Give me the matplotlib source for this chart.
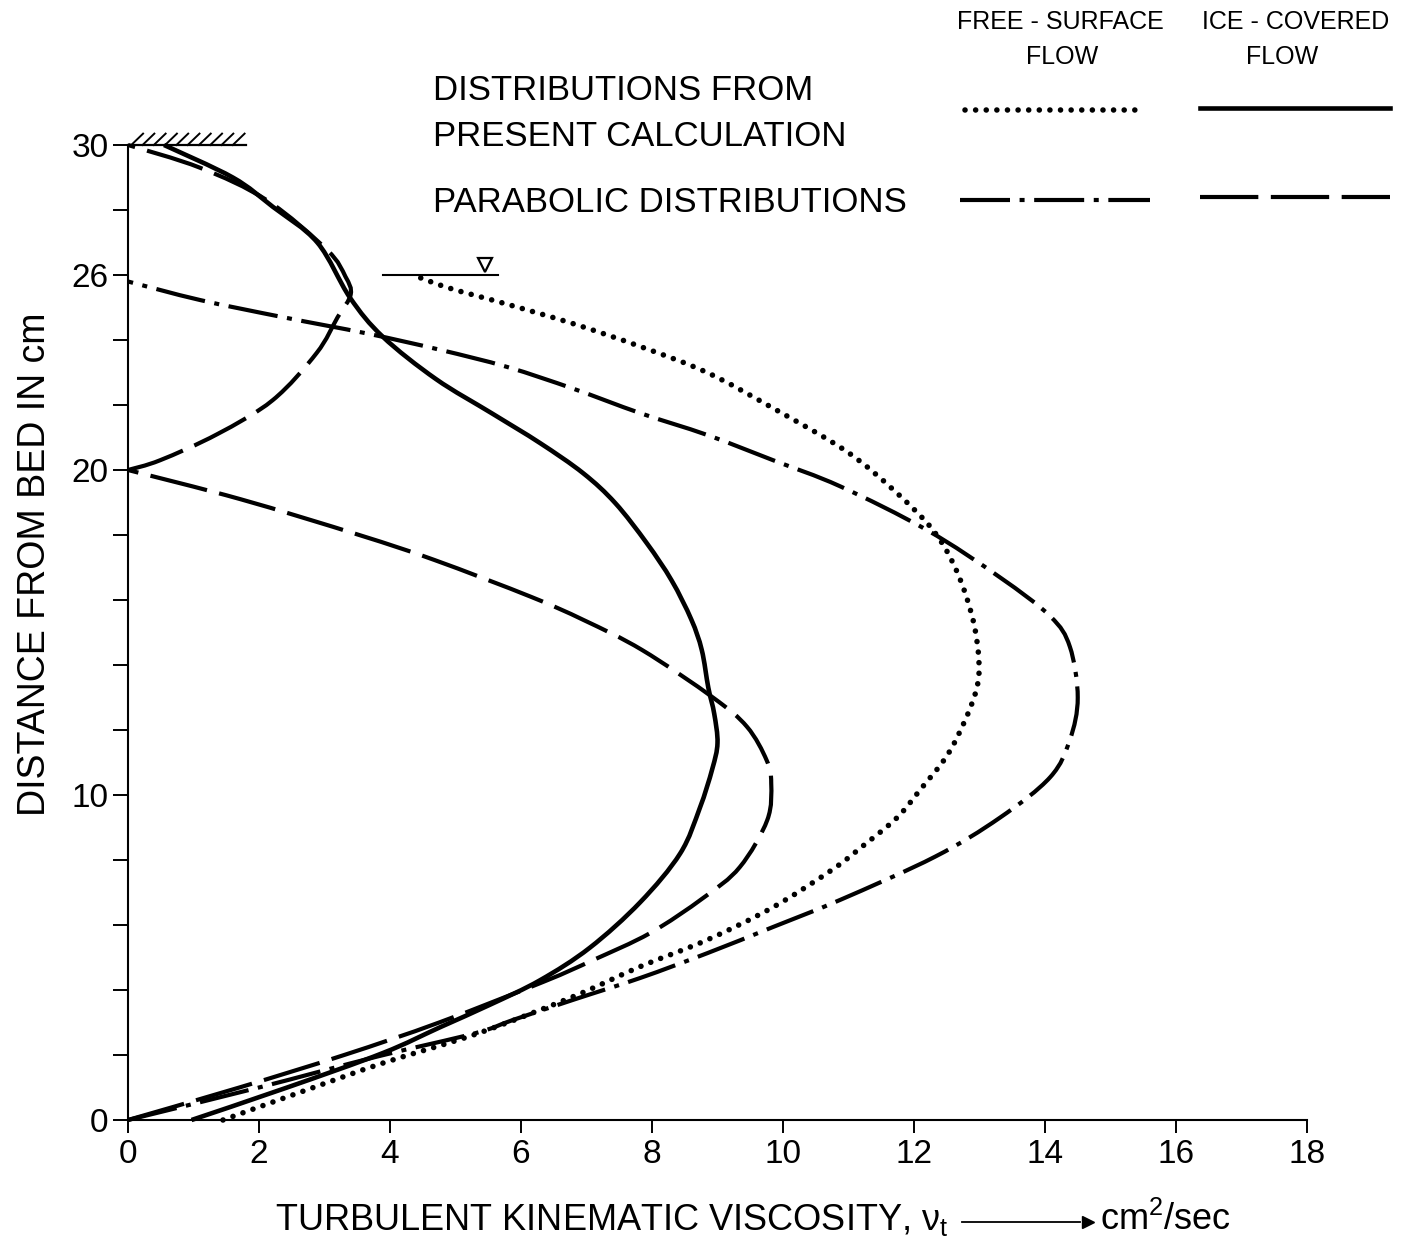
import numpy as np
import matplotlib
matplotlib.use('Agg')
from matplotlib import pyplot as plt
from matplotlib.lines import Line2D
from matplotlib.path import Path
from matplotlib.patches import PathPatch

plt.rcParams['font.family'] = ['Liberation Sans', 'DejaVu Sans']
plt.rcParams['mathtext.fontset'] = 'custom'
plt.rcParams['mathtext.rm'] = 'Liberation Sans'
plt.rcParams['mathtext.it'] = 'Liberation Sans'

# free-surface flow, present calculation (dotted)
free_calc_y = [0, 0.92, 1.75, 2.67, 3.8, 4.72, 5.54, 6.55, 7.7, 8.4, 9.3, 10.15, 11.2, 12.3,
               13.3, 14.15, 15.4, 16.9, 18.15, 19.4, 20.6, 21.9, 23.0, 23.8, 24.5, 25.1, 25.6, 26.0]
free_calc_x = [1.45, 2.72, 3.89, 5.35, 6.8, 7.82, 8.84, 9.85, 10.75, 11.2, 11.74, 12.09, 12.5, 12.78,
               12.96, 12.99, 12.9, 12.65, 12.29, 11.68, 10.95, 9.85, 8.84, 7.82, 6.8, 5.79, 4.9, 4.35]

# ice-covered flow, present calculation (solid)
ice_calc_y = [0, 1.0, 2.06, 2.85, 3.55, 4.3, 5.3, 6.7, 8.2, 9.6, 10.8, 11.6, 12.5, 13.3, 14.46,
              15.4, 16.6, 17.75, 18.98, 19.9, 20.83, 21.75, 22.8, 24.1, 25.3, 27.0, 28.1, 29.0, 30.0]
ice_calc_x = [0.97, 2.43, 3.89, 4.76, 5.53, 6.29, 7.05, 7.82, 8.43, 8.73, 8.92, 9.0, 8.95, 8.86, 8.76,
              8.6, 8.3, 7.92, 7.44, 6.95, 6.29, 5.55, 4.7, 3.89, 3.39, 2.89, 2.21, 1.6, 0.55]

# free-surface flow, parabolic distribution (dash-dot)
free_para_y = [0, 1.0, 1.95, 2.67, 3.08, 3.7, 4.37, 5.13, 5.94, 6.77, 8.1, 9.3, 10.55, 11.7,
               13.0, 14.56, 15.5, 16.7, 18.15, 19.5, 20.3, 21.08, 21.75, 22.5, 23.17, 23.7, 24.2,
               24.7, 25.23, 25.8]
free_para_x = [0, 2.0, 3.8, 5.3, 5.88, 6.8, 7.82, 8.84, 9.85, 10.87, 12.32, 13.31, 14.08, 14.38,
               14.5, 14.38, 14.08, 13.31, 12.2, 10.87, 9.85, 8.84, 7.82, 6.8, 5.79, 4.76, 3.65,
               2.37, 1.1, 0]

# ice-covered flow, parabolic distribution (long dashes): bed layer 0-20, ice layer 20-30
ice_para_bed_y = [0, 1, 2, 3, 4.25, 4.92, 5.75, 6.83, 7.78, 9.23, 10.37, 11.07, 12.1, 13.0, 14.46,
                  15.38, 16.1, 17.23, 18.0, 19.1, 20]
ice_para_bed_x = [0, 1.7, 3.3, 4.75, 6.34, 7.1, 7.97, 8.78, 9.34, 9.76, 9.82, 9.75, 9.45, 8.93, 7.85,
                  6.96, 6.15, 4.68, 3.53, 1.72, 0]
ice_para_top_y = [20, 20.3, 21.1, 22.15, 23.6, 24.7, 25.4, 25.95, 26.77, 28.3, 29.3, 30]
ice_para_top_x = [0, 0.49, 1.36, 2.21, 2.88, 3.2, 3.4, 3.32, 3.04, 2.12, 1.1, 0]

x_ticks = list(range(0, 19, 2))
y_ticks = list(range(0, 31, 2))
y_labelled = [0, 10, 20, 26, 30]
surface_y = 26
surface_x = [3.9, 5.65]
wall_x = [0, 1.8]

dotted = (0, (0.01, 1.9))
longdash = (0, (14, 3))
dashdot = (0, (12, 2.3, 1.2, 2.3))
lw = 3.0


def smooth_curve(ax, xs, ys, **kw):
    # Catmull-Rom segments drawn as cubic Bezier pieces through the read points
    p = np.column_stack([xs, ys]).astype(float)
    verts = [p[0]]
    codes = [Path.MOVETO]
    for i in range(len(p) - 1):
        p0 = p[i - 1] if i > 0 else p[i]
        p3 = p[i + 2] if i + 2 < len(p) else p[i + 1]
        c1 = p[i] + (p[i + 1] - p0) / 6
        c2 = p[i + 1] - (p3 - p[i]) / 6
        verts += [c1, c2, p[i + 1]]
        codes += [Path.CURVE4] * 3
    patch = PathPatch(Path(verts, codes), fill=False, edgecolor='k', clip_on=False, **kw)
    ax.add_patch(patch)


fig = plt.figure(figsize=(14.04, 12.42), dpi=100)
ax = fig.add_axes([128 / 1404, 122 / 1242, 1179 / 1404, 975 / 1242])

smooth_curve(ax, free_calc_x, free_calc_y, lw=4, linestyle=dotted, capstyle='round')
smooth_curve(ax, ice_calc_x, ice_calc_y, lw=3.3)
smooth_curve(ax, free_para_x, free_para_y, lw=lw, linestyle=dashdot)
smooth_curve(ax, ice_para_bed_x, ice_para_bed_y, lw=lw, linestyle=longdash)
smooth_curve(ax, ice_para_top_x, ice_para_top_y, lw=lw, linestyle=longdash)

# water surface and ice cover
ax.plot(surface_x, [surface_y, surface_y], color='k', lw=1.5, clip_on=False)
ax.plot(5.45, surface_y + 0.3, marker='v', ms=10, mfc='white', mec='k', mew=1.6, clip_on=False)
ax.plot(wall_x, [30, 30], color='k', lw=1.6, clip_on=False)
for xs in np.linspace(wall_x[0] + 0.05, wall_x[1] - 0.2, 10):
    ax.plot([xs, xs + 0.18], [30, 30.35], color='k', lw=1.4, clip_on=False)

ax.set_xlim(0, 18)
ax.set_ylim(0, 30)
ax.spines['top'].set_visible(False)
ax.spines['right'].set_visible(False)
ax.spines['left'].set_linewidth(1.5)
ax.spines['bottom'].set_linewidth(1.5)
ax.set_xticks(x_ticks)
ax.set_xticklabels([str(v) for v in x_ticks])
ax.set_yticks(y_ticks)
ax.set_yticklabels([str(v) if v in y_labelled else '' for v in y_ticks])
ax.tick_params(axis='x', direction='out', length=9.5, width=1.4, labelsize=24, pad=4)
ax.tick_params(axis='y', direction='out', length=11, width=1.4, labelsize=24, pad=3)

# axis titles
fig.text(35 / 1404, 0.546, 'DISTANCE FROM BED IN cm', rotation=90, ha='center', va='center', fontsize=27)
fig.text(275 / 1404, 0.0177, r'TURBULENT KINEMATIC VISCOSITY, $\nu_t$', ha='left', va='center', fontsize=26)
fig.add_artist(Line2D([962 / 1404, 1080 / 1404], [0.0161, 0.0161], color='k', lw=1.3))
fig.add_artist(Line2D([1088 / 1404], [0.0161], marker='>', ms=8, color='k'))
fig.text(1100 / 1404, 0.0177, r'cm$^2$/sec', ha='left', va='center', fontsize=26)

# legend block
fig.text(433 / 1404, 0.9275, 'DISTRIBUTIONS FROM', ha='left', va='center', fontsize=25)
fig.text(433 / 1404, 0.8897, 'PRESENT CALCULATION', ha='left', va='center', fontsize=25)
fig.text(433 / 1404, 0.8366, 'PARABOLIC DISTRIBUTIONS', ha='left', va='center', fontsize=25)
fig.text(1060 / 1404, 0.9823, 'FREE - SURFACE', ha='center', va='center', fontsize=18)
fig.text(1062 / 1404, 0.954, 'FLOW', ha='center', va='center', fontsize=18)
fig.text(1296 / 1404, 0.9823, 'ICE - COVERED', ha='center', va='center', fontsize=18)
fig.text(1282 / 1404, 0.954, 'FLOW', ha='center', va='center', fontsize=18)

fig.add_artist(Line2D([965 / 1404, 1145 / 1404], [0.9114, 0.9114], color='k', lw=4,
                      linestyle=dotted, dash_capstyle='round'))
fig.add_artist(Line2D([1200 / 1404, 1390 / 1404], [0.913, 0.913], color='k', lw=3.3))
fig.add_artist(Line2D([960 / 1404, 1150 / 1404], [0.839, 0.839], color='k', lw=lw, linestyle=dashdot))
fig.add_artist(Line2D([1200 / 1404, 1390 / 1404], [0.8414, 0.8414], color='k', lw=lw, linestyle=longdash))

fig.savefig('out.png', dpi=100)
